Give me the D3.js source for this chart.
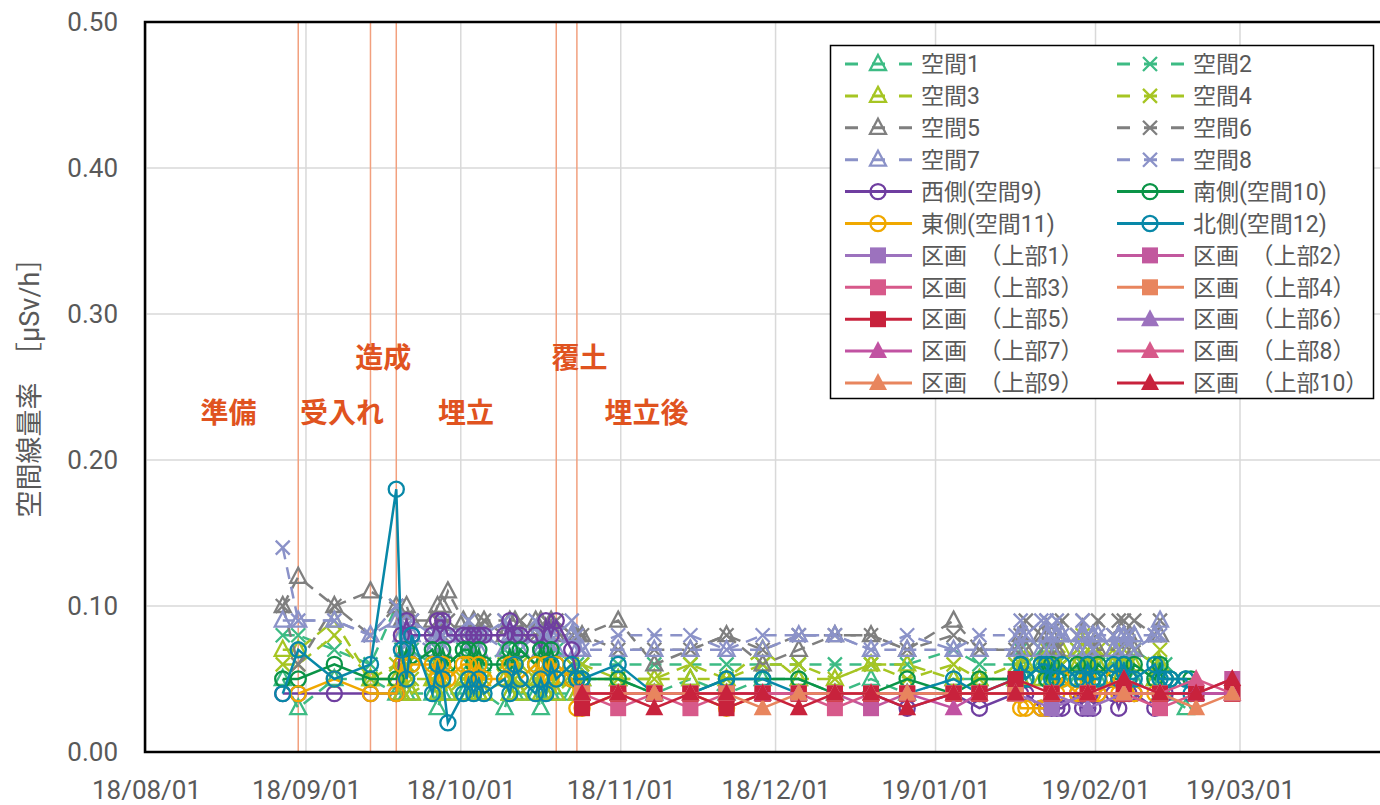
<!DOCTYPE html>
<html>
<head>
<meta charset="utf-8">
<script src="https://cdn.jsdelivr.net/npm/d3@7"></script>
<style>
  body { margin: 0; background: #fff; }
  text { font-family: Roboto, "Noto Sans CJK JP", sans-serif; fill: #595959; }
</style>
</head>
<body>
<svg width="1380" height="805"></svg>
<script>
// measurement dates of 空間1-12 (early / daily / weekly / daily / tail)
const datesSpace = [
  "2018-08-27","2018-08-30","2018-09-06","2018-09-13",
  "2018-09-18","2018-09-19","2018-09-20","2018-09-21","2018-09-25","2018-09-26","2018-09-27","2018-09-28",
  "2018-10-01","2018-10-02","2018-10-03","2018-10-04","2018-10-05","2018-10-09","2018-10-10","2018-10-11","2018-10-12",
  "2018-10-15","2018-10-16","2018-10-17","2018-10-18","2018-10-19","2018-10-22","2018-10-23",
  "2018-10-24","2018-10-31","2018-11-07","2018-11-14","2018-11-21","2018-11-28","2018-12-05","2018-12-12","2018-12-19","2018-12-26","2019-01-04","2019-01-09","2019-01-16",
  "2019-01-17","2019-01-18","2019-01-21","2019-01-22","2019-01-23","2019-01-24","2019-01-25","2019-01-28","2019-01-29","2019-01-30","2019-01-31","2019-02-01","2019-02-04","2019-02-05","2019-02-06","2019-02-07","2019-02-08","2019-02-12","2019-02-13",
  "2019-02-14","2019-02-15","2019-02-18","2019-02-19","2019-02-20"
];
// measurement dates of 区画 (上部1-10)
const datesBlock = [
  "2018-10-24","2018-10-31","2018-11-07","2018-11-14","2018-11-21","2018-11-28","2018-12-05","2018-12-12","2018-12-19","2018-12-26",
  "2019-01-04","2019-01-09","2019-01-16","2019-01-23","2019-01-30","2019-02-06","2019-02-13","2019-02-20","2019-02-27"
];

const sp1 = [0.05,0.03,0.05,0.05,
  0.04,0.04,0.04,0.04,0.04,0.03,0.04,0.04, 0.04,0.04,0.04,0.04,0.04,0.03,0.04,0.04,0.04, 0.04,0.03,0.04,0.04,0.04,0.04,0.04,
  0.05,0.05,0.04,0.05,0.04,0.05,0.05,0.04,0.05,0.04,0.05,0.05,0.05,
  0.05,0.05,0.06,0.05,0.05,0.06,0.05,0.05,0.06,0.05,0.05,0.05,0.06,0.05,0.05,0.04,0.05,0.05,0.04,
  0.04,null,0.03,null,null];
const sp2 = [0.08,0.08,0.07,0.06,
  0.10,0.07,0.06,0.07,0.06,0.07,0.06,0.06, 0.07,0.06,0.07,0.06,0.06,0.07,0.06,0.06,0.07, 0.06,0.07,0.06,0.06,0.07,0.06,0.06,
  0.06,0.06,0.06,0.06,0.06,0.06,0.06,0.06,0.06,0.06,0.07,0.06,0.06,
  0.07,0.06,0.07,0.06,0.07,0.06,0.06,0.07,0.06,0.06,0.07,0.06,0.06,0.07,0.06,0.06,0.07,0.06,0.06,
  0.06,null,null,null,null];
const sp3 = [0.07,0.07,0.09,0.05,
  0.05,0.04,0.05,0.04,0.05,0.04,0.05,0.04, 0.05,0.04,0.05,0.04,0.04,0.05,0.04,0.05,0.04, 0.05,0.04,0.04,0.05,0.04,0.05,0.04,
  0.05,0.05,0.05,0.05,0.05,0.07,0.05,0.05,0.06,0.06,0.05,0.05,0.05,
  0.05,0.06,0.05,0.06,0.05,0.06,0.07,0.06,0.05,0.06,0.07,0.06,0.06,0.05,0.06,0.07,0.06,0.05,0.06,
  null,null,null,null,null];
const sp4 = [0.06,0.06,0.08,0.05,
  0.06,0.05,0.06,0.05,0.05,0.06,0.05,0.06, 0.05,0.05,0.06,0.05,0.05,0.06,0.05,0.05,0.06, 0.05,0.05,0.06,0.05,0.05,0.06,0.05,
  0.06,0.05,0.05,0.06,0.05,0.06,0.06,0.05,0.06,0.05,0.06,0.05,0.06,
  0.06,0.07,0.06,0.07,0.06,0.07,0.06,0.07,0.08,0.07,0.06,0.07,0.07,0.06,0.07,0.08,0.07,0.06,0.07,
  null,null,null,null,null];
const sp5 = [0.10,0.12,0.10,0.11,
  0.10,0.09,0.10,0.09,0.09,0.10,0.10,0.11, 0.09,0.08,0.09,0.08,0.09,0.08,0.09,0.09,0.08, 0.09,0.09,0.08,0.09,0.08,0.08,0.08,
  0.08,0.09,0.06,0.07,0.08,0.06,0.07,0.08,0.08,0.07,0.09,0.07,0.07,
  0.08,0.07,0.08,0.07,0.08,0.07,0.08,0.07,0.08,0.07,0.08,0.07,0.07,0.08,0.07,0.08,0.07,0.08,0.08,
  null,null,null,null,null];
const sp6 = [0.10,0.06,0.10,0.08,
  0.10,0.09,0.08,0.09,0.08,0.09,0.08,0.09, 0.08,0.09,0.08,0.08,0.09,0.09,0.08,0.08,0.09, 0.08,0.08,0.09,0.08,0.09,0.08,0.08,
  0.08,0.07,0.07,0.07,0.08,0.07,0.08,0.08,0.08,0.07,0.08,0.07,0.07,
  0.08,0.09,0.08,0.09,0.08,0.07,0.09,0.08,0.09,0.08,0.07,0.09,0.08,0.09,0.09,0.08,0.09,0.08,0.09,
  null,null,null,null,null];
const sp7 = [0.09,0.09,0.09,0.08,
  0.09,0.08,0.07,0.08,0.07,0.08,0.07,0.08, 0.08,0.07,0.08,0.07,0.08,0.07,0.08,0.08,0.07, 0.08,0.07,0.08,0.07,0.07,0.08,0.07,
  0.07,0.07,0.07,0.07,0.07,0.07,0.08,0.08,0.07,0.07,0.07,0.07,0.07,
  0.07,0.08,0.07,0.08,0.07,0.08,0.08,0.07,0.08,0.07,0.08,0.08,0.07,0.08,0.08,0.07,0.08,0.08,0.09,
  null,null,null,null,null];
const sp8 = [0.14,0.09,0.09,0.08,
  0.10,0.09,0.08,0.09,0.08,0.08,0.09,0.08, 0.08,0.09,0.08,0.08,0.08,0.09,0.08,0.08,0.08, 0.09,0.08,0.08,0.08,0.08,0.09,0.08,
  0.07,0.08,0.08,0.08,0.07,0.08,0.08,0.08,0.07,0.08,0.07,0.08,0.08,
  0.09,0.08,0.09,0.09,0.08,0.09,0.08,0.08,0.09,0.08,0.07,0.08,0.08,0.07,0.08,0.08,0.07,0.08,0.08,
  null,null,null,null,null];
const sp9 = [0.04,0.04,0.04,0.04,
  0.04,0.08,0.09,0.08,0.08,0.09,0.09,0.08, 0.08,0.08,0.08,0.08,0.08,0.08,0.09,0.08,0.08, 0.08,0.07,0.09,0.08,0.09,0.07,0.05,
  0.04,0.04,0.04,0.04,0.04,0.04,0.04,0.04,0.04,0.03,0.04,0.03,0.04,
  0.04,0.04,0.03,0.03,0.03,0.03,0.03,0.04,0.03,0.03,0.03,0.04,0.04,0.03,0.04,0.04,0.04,0.03,0.04,
  0.04,null,null,null,null];
const sp10 = [0.05,0.05,0.06,0.05,
  0.05,0.06,0.07,0.06,0.07,0.06,0.07,0.06, 0.07,0.07,0.06,0.07,0.06,0.06,0.07,0.06,0.07, 0.06,0.07,0.06,0.07,0.06,0.05,0.05,
  0.05,0.05,0.04,0.04,0.05,0.05,0.05,0.04,0.04,0.05,0.04,0.05,0.05,
  0.06,0.05,0.06,0.05,0.06,0.05,0.05,0.06,0.05,0.06,0.05,0.06,0.05,0.05,0.06,0.05,0.06,0.05,0.06,
  0.05,0.05,0.05,0.05,0.04];
const sp11 = [null,0.04,0.05,0.04,
  0.04,0.06,0.05,0.06,0.06,0.05,0.06,0.05, 0.06,0.06,0.05,0.06,0.05,0.05,0.06,0.06,0.05, 0.06,0.05,0.06,0.05,0.06,0.05,0.03,
  0.03,0.04,0.04,0.04,0.03,0.04,0.04,0.04,0.04,0.04,0.04,0.04,0.04,
  0.03,0.03,0.03,0.03,0.04,0.04,0.05,0.04,0.04,0.05,0.04,0.04,0.05,0.04,0.04,0.05,0.04,0.04,0.04,
  null,null,null,null,null];
const sp12 = [0.04,0.07,0.05,0.06,
  0.18,0.07,0.05,0.08,0.04,0.06,0.05,0.02, 0.04,0.05,0.04,0.05,0.04,0.05,0.04,0.06,0.05, 0.04,0.05,0.04,0.06,0.05,0.06,0.05,
  0.05,0.06,0.04,0.04,0.05,0.05,0.04,0.04,0.04,0.04,0.05,0.04,0.05,
  0.06,0.05,0.06,0.06,0.05,0.05,0.06,0.05,0.05,0.06,0.05,0.05,0.06,0.05,0.06,0.05,0.05,0.06,0.05,
  0.05,0.05,0.05,0.04,null];

const up1  = [0.04,0.04,0.04,0.04,0.04,0.04,0.04,0.04,0.04,0.04,0.04,0.04,0.04,0.03,0.04,0.04,0.04,0.04,0.04];
const up2  = [0.04,0.04,0.04,0.04,0.04,0.04,0.04,0.04,0.03,0.04,0.04,0.04,0.04,0.04,0.04,0.04,0.04,0.04,0.05];
const up3  = [0.04,0.03,0.04,0.03,0.04,0.04,0.04,0.03,0.04,0.04,0.04,0.04,0.04,0.04,0.04,0.04,0.03,0.04,0.04];
const up4  = [0.04,0.04,0.04,0.04,0.04,0.04,0.04,0.04,0.04,0.04,0.04,0.04,0.04,0.04,0.04,0.04,0.04,0.04,0.04];
const up5  = [0.03,0.04,0.04,0.04,0.03,0.04,0.04,0.04,0.04,0.04,0.04,0.04,0.05,0.04,0.04,0.04,0.04,0.04,0.04];
const up6  = [0.04,0.04,0.04,0.04,0.04,0.04,0.04,0.04,0.04,0.04,0.04,0.04,0.04,0.04,0.03,0.04,0.04,0.04,0.04];
const up7  = [0.04,0.04,0.04,0.04,0.04,0.04,0.04,0.04,0.04,0.04,0.03,0.04,0.04,0.04,0.04,0.05,0.04,0.04,0.04];
const up8  = [0.04,0.04,0.04,0.04,0.04,0.04,0.04,0.04,0.04,0.04,0.04,0.04,0.04,0.04,0.04,0.04,0.04,0.05,0.04];
const up9  = [0.04,0.04,0.04,0.04,0.04,0.03,0.04,0.04,0.04,0.04,0.04,0.04,0.04,0.04,0.04,0.04,0.04,0.03,0.04];
const up10 = [0.04,0.04,0.03,0.04,0.04,0.04,0.03,0.04,0.04,0.03,0.04,0.04,0.04,0.04,0.04,0.05,0.04,0.04,0.05];

const yTicks = [0, 0.1, 0.2, 0.3, 0.4, 0.5];
const xTicks = ["2018-08-01","2018-09-01","2018-10-01","2018-11-01","2018-12-01","2019-01-01","2019-02-01","2019-03-01"];

// phase boundaries and phase labels
const phaseDates = ["2018-08-30","2018-09-13","2018-09-18","2018-10-19","2018-10-23"];
const phaseLabels = [
  { text: "準備",   date: "2018-08-17", value: 0.232 },
  { text: "受入れ", date: "2018-09-08", value: 0.232 },
  { text: "造成",   date: "2018-09-16", value: 0.270 },
  { text: "埋立",   date: "2018-10-02", value: 0.232 },
  { text: "覆土",   date: "2018-10-24", value: 0.270 },
  { text: "埋立後", date: "2018-11-06", value: 0.232 }
];

const parseDate = d3.timeParse("%Y-%m-%d");
const parseNoon = s => d3.timeHour.offset(parseDate(s), 12);

const svg = d3.select("svg");

const x = d3.scaleTime()
  .domain([parseDate("2018-08-01"), parseDate("2019-03-01")])
  .range([146, 1240]);
const y = d3.scaleLinear().domain([0, 0.5]).range([752, 22]);

const series = [
  { name: "空間1", dates: datesSpace, values: sp1, color: "#3dbb84", dash: true, mark: "tri" },
  { name: "空間2", dates: datesSpace, values: sp2, color: "#3dbb84", dash: true, mark: "x" },
  { name: "空間3", dates: datesSpace, values: sp3, color: "#a6c523", dash: true, mark: "tri" },
  { name: "空間4", dates: datesSpace, values: sp4, color: "#a6c523", dash: true, mark: "x" },
  { name: "空間5", dates: datesSpace, values: sp5, color: "#7f7f7f", dash: true, mark: "tri" },
  { name: "空間6", dates: datesSpace, values: sp6, color: "#7f7f7f", dash: true, mark: "x" },
  { name: "空間7", dates: datesSpace, values: sp7, color: "#8b92c8", dash: true, mark: "tri" },
  { name: "空間8", dates: datesSpace, values: sp8, color: "#8b92c8", dash: true, mark: "x" },
  { name: "西側(空間9)", dates: datesSpace, values: sp9, color: "#6f3ea0", mark: "circle" },
  { name: "南側(空間10)", dates: datesSpace, values: sp10, color: "#0a9447", mark: "circle" },
  { name: "東側(空間11)", dates: datesSpace, values: sp11, color: "#f0a800", mark: "circle" },
  { name: "北側(空間12)", dates: datesSpace, values: sp12, color: "#0888a8", mark: "circle" },
  { name: "区画　（上部1）", dates: datesBlock, values: up1, color: "#9c72be", mark: "square" },
  { name: "区画　（上部2）", dates: datesBlock, values: up2, color: "#c2589e", mark: "square" },
  { name: "区画　（上部3）", dates: datesBlock, values: up3, color: "#d7598a", mark: "square" },
  { name: "区画　（上部4）", dates: datesBlock, values: up4, color: "#e8855e", mark: "square" },
  { name: "区画　（上部5）", dates: datesBlock, values: up5, color: "#c8223c", mark: "square" },
  { name: "区画　（上部6）", dates: datesBlock, values: up6, color: "#9c72be", mark: "ftri" },
  { name: "区画　（上部7）", dates: datesBlock, values: up7, color: "#c152a2", mark: "ftri" },
  { name: "区画　（上部8）", dates: datesBlock, values: up8, color: "#d7598a", mark: "ftri" },
  { name: "区画　（上部9）", dates: datesBlock, values: up9, color: "#e8855e", mark: "ftri" },
  { name: "区画　（上部10）", dates: datesBlock, values: up10, color: "#c8223c", mark: "ftri" }
];

function markerPath(type) {
  if (type === "tri") return "M0,-9L8,6L-8,6Z";
  if (type === "x") return "M-7,-7L7,7M-7,7L7,-7";
  if (type === "ftri") return "M0,-10L9,7L-9,7Z";
  if (type === "square") return "M-8,-8H8V8H-8Z";
  return d3.symbol(d3.symbolCircle, 180)();
}
function styleMarker(sel, s) {
  const filled = s.mark === "square" || s.mark === "ftri";
  sel.attr("d", markerPath(s.mark))
    .attr("fill", filled ? s.color : "none")
    .attr("stroke", s.color)
    .attr("stroke-width", filled ? 0 : 2.3);
}

// gridlines
svg.append("g")
  .selectAll("line")
  .data(yTicks.filter(d => d > 0 && d < 0.5))
  .join("line")
  .attr("x1", 146).attr("x2", 1385)
  .attr("y1", d => y(d)).attr("y2", d => y(d))
  .attr("stroke", "#d9d9d9").attr("stroke-width", 1.5);

svg.append("g")
  .selectAll("line")
  .data(xTicks.map(parseDate))
  .join("line")
  .attr("x1", d => x(d)).attr("x2", d => x(d))
  .attr("y1", 22).attr("y2", 752)
  .attr("stroke", "#d9d9d9").attr("stroke-width", 1.5);

// phase boundaries
svg.append("g")
  .selectAll("line")
  .data(phaseDates.map(parseNoon))
  .join("line")
  .attr("x1", d => x(d)).attr("x2", d => x(d))
  .attr("y1", 22).attr("y2", 752)
  .attr("stroke", "#f2a07e").attr("stroke-width", 1.5);

// series
const line = d3.line().x(d => x(d.date)).y(d => y(d.v));
const plot = svg.append("g");
series.forEach(s => {
  const pts = s.dates
    .map((d, i) => ({ date: parseNoon(d), v: s.values[i] }))
    .filter(p => p.v != null);
  const g = plot.append("g");
  g.append("path")
    .attr("d", line(pts))
    .attr("fill", "none")
    .attr("stroke", s.color)
    .attr("stroke-width", 2.5)
    .attr("stroke-dasharray", s.dash ? "12,8" : null);
  g.selectAll("path.mk")
    .data(pts)
    .join("path")
    .classed("mk", true)
    .attr("transform", d => `translate(${x(d.date)},${y(d.v)})`)
    .call(styleMarker, s);
});

// plot border
svg.append("rect")
  .attr("x", 145).attr("y", 22)
  .attr("width", 1250).attr("height", 730)
  .attr("fill", "none").attr("stroke", "#000").attr("stroke-width", 2.5);

// axes
const yAxis = svg.append("g")
  .attr("transform", "translate(145,0)")
  .call(d3.axisLeft(y).tickValues(yTicks).tickFormat(d3.format(".2f")).tickSize(0).tickPadding(27));
const xAxis = svg.append("g")
  .attr("transform", "translate(0,752)")
  .call(d3.axisBottom(x).tickValues(xTicks.map(parseDate)).tickFormat(d3.timeFormat("%y/%m/%d")).tickSize(0).tickPadding(29));
[yAxis, xAxis].forEach(a => {
  a.select(".domain").remove();
  a.selectAll("text").attr("font-size", 26).attr("fill", "#595959")
    .style("font-family", "Roboto, sans-serif");
});

svg.append("text")
  .attr("transform", "translate(39,381) rotate(-90)")
  .attr("text-anchor", "middle")
  .attr("font-size", 27)
  .text("空間線量率　［μSv/h］");

// phase labels
svg.append("g")
  .selectAll("text")
  .data(phaseLabels)
  .join("text")
  .attr("x", d => x(parseDate(d.date)))
  .attr("y", d => y(d.value))
  .attr("dy", "0.36em")
  .attr("text-anchor", "middle")
  .attr("font-size", 28)
  .attr("font-weight", "bold")
  .style("fill", "#e0531f")
  .text(d => d.text);

// legend
const legend = svg.append("g");
legend.append("rect")
  .attr("x", 830.5).attr("y", 45.5)
  .attr("width", 543).attr("height", 353)
  .attr("fill", "#fff").attr("stroke", "#000").attr("stroke-width", 1.5);

series.forEach((s, i) => {
  const col = i % 2, row = Math.floor(i / 2);
  const lx = 845 + col * 272, ly = 64 + row * 31.9;
  const g = legend.append("g").attr("transform", `translate(${lx},${ly})`);
  g.append("line")
    .attr("x1", 0).attr("x2", 67)
    .attr("stroke", s.color).attr("stroke-width", 3)
    .attr("stroke-dasharray", s.dash ? "13,14,13,14,13" : null);
  g.append("path")
    .attr("transform", "translate(33,0)")
    .call(styleMarker, s);
  g.append("text")
    .attr("x", 76).attr("dy", "0.36em")
    .attr("font-size", 23)
    .text(s.name);
});
</script>
</body>
</html>
